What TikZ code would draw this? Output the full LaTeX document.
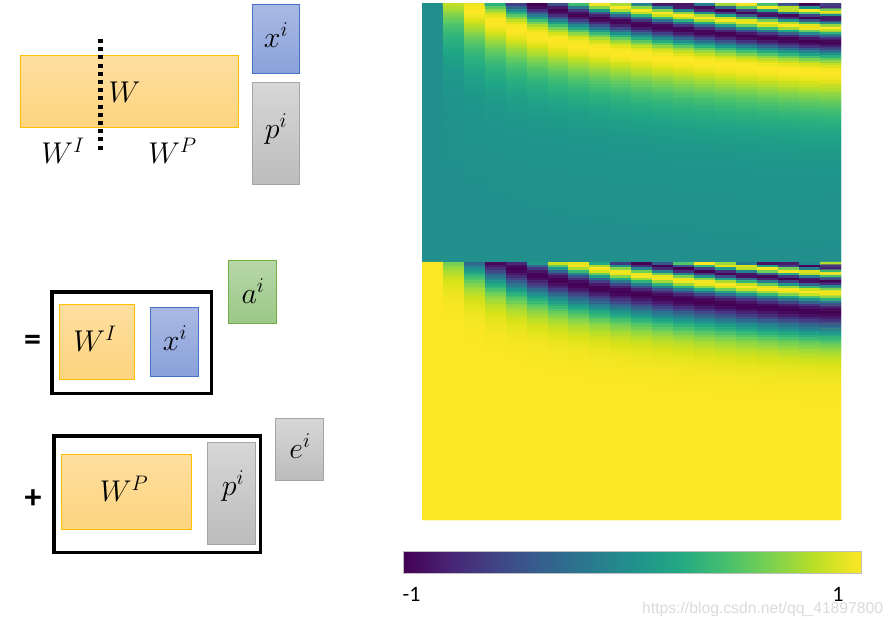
\RequirePackage{fix-cm}
\documentclass[tikz,border=0pt]{standalone}
\usepackage{fontspec}
\newfontfamily\calib{Carlito}
\newfontfamily\arialf{Liberation Sans}
\usepackage{pgfplots}
\pgfplotsset{compat=1.18}
\definecolor{orT}{RGB}{255,223,160}
\definecolor{orB}{RGB}{253,212,126}
\definecolor{orD}{RGB}{255,192,0}
\definecolor{blT}{RGB}{170,185,227}
\definecolor{blB}{RGB}{138,162,218}
\definecolor{blD}{RGB}{68,114,196}
\definecolor{grT}{RGB}{183,215,168}
\definecolor{grB}{RGB}{155,200,136}
\definecolor{grD}{RGB}{112,173,71}
\definecolor{gyT}{RGB}{215,215,215}
\definecolor{gyB}{RGB}{188,188,188}
\definecolor{gyD}{RGB}{165,165,165}
\definecolor{v0}{HTML}{440154}
\definecolor{v1}{HTML}{482475}
\definecolor{v2}{HTML}{414487}
\definecolor{v3}{HTML}{355F8D}
\definecolor{v4}{HTML}{2A788E}
\definecolor{v5}{HTML}{21918C}
\definecolor{v6}{HTML}{22A884}
\definecolor{v7}{HTML}{44BF70}
\definecolor{v8}{HTML}{7AD151}
\definecolor{v9}{HTML}{BDDF26}
\definecolor{v10}{HTML}{FDE725}
\pgfdeclarehorizontalshading{viridisbar}{100bp}{color(0bp)=(v0); color(25bp)=(v0); color(30bp)=(v1); color(35bp)=(v2); color(40bp)=(v3); color(45bp)=(v4); color(50bp)=(v5); color(55bp)=(v6); color(60bp)=(v7); color(65bp)=(v8); color(70bp)=(v9); color(75bp)=(v10); color(100bp)=(v10)}
\tikzset{
  mbox/.style={inner sep=0pt, line width=1pt},
  obox/.style={mbox, draw=orD, top color=orT, bottom color=orB},
  bbox/.style={mbox, draw=blD, top color=blT, bottom color=blB},
  gbox/.style={mbox, draw=grD, top color=grT, bottom color=grB},
  ybox/.style={mbox, draw=gyD, top color=gyT, bottom color=gyB},
  frame/.style={draw=black, line width=3.5pt, inner sep=0pt},
  lbl/.style={inner sep=0pt, anchor=base, font=\fontsize{30}{36}\selectfont},
  sign/.style={inner sep=0pt, font=\calib\bfseries\fontsize{34}{40}\selectfont},
  ticklbl/.style={inner sep=0pt, anchor=base, font=\calib\fontsize{22}{26}\selectfont},
  dotline/.style={line width=5pt, dash pattern=on 4pt off 4.2pt},
}
\begin{document}
\begin{tikzpicture}[x=1pt,y=-1pt]
\useasboundingbox[fill=white] (0,0) rectangle (894,625);
% top group
\node[obox, minimum width=218pt, minimum height=72pt] (W) at (129.5,91.5) {};
\coordinate (dtop) at (100.5,39);
\coordinate (dbot) at (100.5,153);
\draw[dotline] (dtop) -- (dbot);
\node[lbl] (Wl) at (124.5,102) {$W$};
\node[lbl] (WIl) at (63,163) {$W^I$};
\node[lbl] (WPl) at (172.5,163) {$W^P$};
\node[bbox, minimum width=47pt, minimum height=69pt] (x1) at (276,39) {};
\node[lbl] (x1l) at (276,47) {$x^i$};
\node[ybox, minimum width=47pt, minimum height=102pt] (p1) at (276,133.5) {};
\node[lbl] (p1l) at (276,138) {$p^i$};
% equals group
\node[sign] (eq) at (32.5,342.5) {=};
\node[frame, minimum width=159.5pt, minimum height=101.5pt] (f1) at (131.5,342.5) {};
\node[obox, minimum width=75pt, minimum height=75pt] (WI) at (97,342) {};
\node[lbl] (WIb) at (95,351.5) {$W^I$};
\node[bbox, minimum width=48pt, minimum height=69pt] (x2) at (174.5,342) {};
\node[lbl] (x2l) at (175,350) {$x^i$};
\node[gbox, minimum width=48pt, minimum height=63pt] (a) at (252.5,292) {};
\node[lbl] (al) at (253,303) {$a^i$};
% plus group
\node[sign] (plus) at (33,499.5) {+};
\node[frame, minimum width=206.5pt, minimum height=116.5pt] (f2) at (157,494) {};
\node[obox, minimum width=130pt, minimum height=75pt] (WP) at (126.5,492) {};
\node[lbl] (WPb) at (124,501.5) {$W^P$};
\node[ybox, minimum width=48pt, minimum height=102pt] (p2) at (231.5,493.5) {};
\node[lbl] (p2l) at (233,495) {$p^i$};
\node[ybox, minimum width=48pt, minimum height=62pt] (e) at (299.5,449.5) {};
\node[lbl] (el) at (300,458) {$e^i$};
% heatmap background (hides seams between cells)
\fill[v5] (422,3) rectangle (841,261.5);
\fill[v10] (422,261.5) rectangle (841,520);
\begin{axis}[at={(422pt,-3pt)}, anchor=north west, width=419pt, height=517pt,
  scale only axis, hide axis, view={0}{90}, xmin=-0.5, xmax=19.5, ymin=0, ymax=2,
  colormap/viridis, point meta min=-1, point meta max=1, enlargelimits=false]
\addplot3[matrix plot*, domain=0:19, samples=20, y domain=0.005:1.995, samples y=200, point meta=z]
  {(y>1) ? sin(deg(x*exp(-9.21034*(2-y)))) : cos(deg(x*exp(-9.21034*(1-y))))};
\end{axis}
% colorbar
\node[inner sep=0pt, draw=gray!50, line width=0.6pt, shading=viridisbar, minimum width=458pt, minimum height=22pt] (cbar) at (632.5,562) {};
\node[ticklbl] (tmin) at (411.5,601) {-1};
\node[ticklbl] (tmax) at (838,601) {1};
\node[inner sep=0pt, anchor=base west, text=gray!28, font=\arialf\fontsize{15.7}{18}\selectfont] (wm) at (642,613) {https://blog.csdn.net/qq\_41897800};
\end{tikzpicture}
\end{document}
